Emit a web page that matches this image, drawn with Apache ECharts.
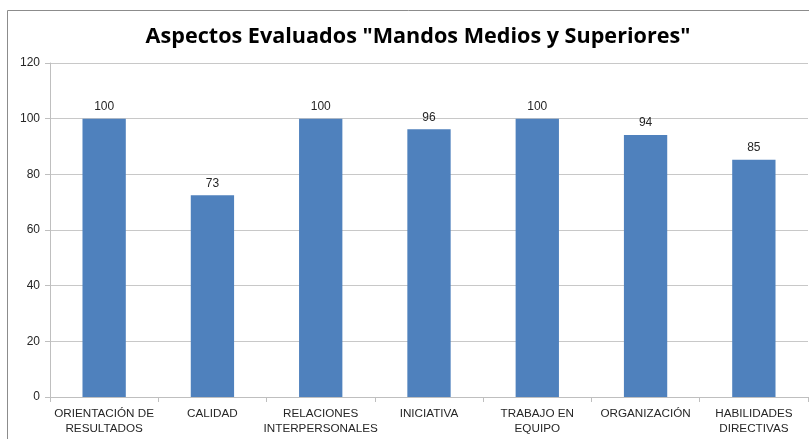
<!DOCTYPE html>
<html><head><meta charset="utf-8">
<script src="https://cdn.jsdelivr.net/npm/echarts@6/dist/echarts.min.js"></script>
<style>html,body{margin:0;padding:0;background:#fff}#c{width:809px;height:439px}</style>
</head><body><div id="c"></div>
<script>
const categories = ["ORIENTACIÓN DE\nRESULTADOS", "CALIDAD", "RELACIONES\nINTERPERSONALES", "INICIATIVA", "TRABAJO EN\nEQUIPO", "ORGANIZACIÓN", "HABILIDADES\nDIRECTIVAS"];
const values = [100, 72.5, 100, 96.2, 100, 94.1, 85.2];
const labels = ["100", "73", "100", "96", "100", "94", "85"];
const yTicks = [0, 20, 40, 60, 80, 100, 120];

const chart = echarts.init(document.getElementById('c'), null, {renderer: 'canvas'});
chart.setOption({
  animation: false,
  title: {
    text: 'Aspectos Evaluados "Mandos Medios y Superiores"',
    left: 413, top: 21, textAlign: 'center',
    textStyle: {fontFamily: 'Open Sans', fontWeight: 'bold', fontSize: 21.6, color: '#000'}
  },
  graphic: [{
    type: 'rect', shape: {x: 7.5, y: 10.5, width: 900, height: 900},
    style: {fill: 'none', stroke: '#8c8c8c', lineWidth: 1}, silent: true, z: -1
  }],
  grid: {left: 50, right: 1, top: 63, bottom: 42},
  xAxis: {
    type: 'category', data: categories,
    axisLine: {lineStyle: {color: '#bfbfbf'}},
    axisTick: {show: true, alignWithLabel: false, length: 5, lineStyle: {color: '#bfbfbf'}},
    axisLabel: {fontFamily: 'Liberation Sans', fontSize: 11.7, color: '#262626', margin: 9, lineHeight: 15, interval: 0}
  },
  yAxis: {
    type: 'value', min: 0, max: 120, interval: 20,
    axisLine: {show: true, lineStyle: {color: '#bfbfbf'}},
    axisTick: {show: true, length: 5, lineStyle: {color: '#bfbfbf'}},
    splitLine: {lineStyle: {color: '#c8c8c8'}},
    axisLabel: {fontFamily: 'Liberation Sans', fontSize: 12, color: '#262626', margin: 10,
      formatter: v => yTicks.includes(v) ? String(v) : ''}
  },
  series: [{
    type: 'bar', data: values, barWidth: '40%',
    itemStyle: {color: '#4f81bd'},
    label: {show: true, position: 'top', distance: 6, fontFamily: 'Liberation Sans', fontSize: 12, color: '#262626',
      formatter: p => labels[p.dataIndex]}
  }]
});
</script></body></html>
